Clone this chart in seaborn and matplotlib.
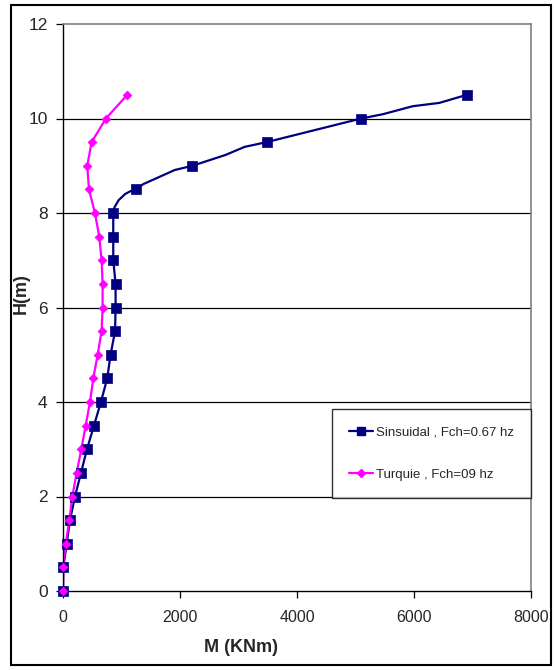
import matplotlib
matplotlib.use("Agg")
import matplotlib.pyplot as plt
from matplotlib.lines import Line2D
from matplotlib.patches import Rectangle
import seaborn as sns

# Sinusoidal excitation: full curve (includes intermediate points) and flags for marked points
sin_m = [0, 5, 63, 119, 205, 307, 410, 529, 648, 756, 813, 890, 899, 899, 859, 859, 859,
         880, 950, 1060, 1150, 1251, 1370, 1911, 2213, 2781, 3106, 3481, 5097, 5466, 5978,
         6433, 6900]
sin_h = [0, 0.5, 1, 1.5, 2, 2.5, 3, 3.5, 4, 4.5, 5, 5.5, 6, 6.5, 7, 7.5, 8,
         8.12, 8.27, 8.40, 8.46, 8.5, 8.61, 8.91, 9, 9.23, 9.40, 9.5, 10, 10.09, 10.26,
         10.33, 10.5]
sin_marked = [1, 1, 1, 1, 1, 1, 1, 1, 1, 1, 1, 1, 1, 1, 1, 1, 1,
              0, 0, 0, 0, 1, 0, 0, 1, 0, 0, 1, 1, 0, 0,
              0, 1]

# Turkey record
tur_m = [0, 5, 46, 108, 159, 233, 313, 387, 461, 518, 592, 660, 677, 677, 660, 620, 546,
         444, 415, 489, 734, 1098]
tur_h = [0, 0.5, 1, 1.5, 2, 2.5, 3, 3.5, 4, 4.5, 5, 5.5, 6, 6.5, 7, 7.5, 8,
         8.5, 9, 9.5, 10, 10.5]

labels = ["Sinsuidal , Fch=0.67 hz", "Turquie , Fch=09 hz"]
x_ticks = [0, 2000, 4000, 6000, 8000]
y_ticks = [0, 2, 4, 6, 8, 10, 12]

NAVY = "#000080"
MAGENTA = "#FF00FF"

sns.set_theme(style="white")
plt.rcParams["font.family"] = ["Liberation Sans", "DejaVu Sans"]

fig = plt.figure(figsize=(5.55, 6.70), dpi=100)
ax = fig.add_axes([63 / 555, 79 / 670, 468 / 555, 567 / 670])

# horizontal gridlines
for yv in y_ticks[1:-1]:
    ax.axhline(yv, color="#000000", lw=0.9, zorder=0)

sns.lineplot(x=sin_m, y=sin_h, sort=False, estimator=None, color=NAVY, lw=1.6, ax=ax)
mx = [m for m, f in zip(sin_m, sin_marked) if f]
my = [h for h, f in zip(sin_h, sin_marked) if f]
sns.scatterplot(x=mx, y=my, marker="s", s=50, color=NAVY, edgecolor=NAVY, linewidth=0.5,
                ax=ax, zorder=3, clip_on=False)

sns.lineplot(x=tur_m, y=tur_h, sort=False, estimator=None, color=MAGENTA, lw=1.6, ax=ax)
sns.scatterplot(x=tur_m, y=tur_h, marker="D", s=20, color=MAGENTA, edgecolor=MAGENTA,
                linewidth=0.5, ax=ax, zorder=4, clip_on=False)

ax.set_xlim(0, 8000)
ax.set_ylim(0, 12)
ax.set_xticks(x_ticks)
ax.set_yticks(y_ticks)
ax.set_xticklabels([str(v) for v in x_ticks], fontsize=11.5)
ax.set_yticklabels([str(v) for v in y_ticks], fontsize=12.5)
ax.tick_params(axis="both", direction="out", length=5, width=0.9, color="black",
               bottom=True, left=True)
ax.tick_params(axis="x", pad=9)
ax.tick_params(axis="y", pad=6)

for side in ["left", "bottom"]:
    ax.spines[side].set_color("black")
    ax.spines[side].set_linewidth(1.0)
for side in ["top", "right"]:
    ax.spines[side].set_color("#808080")
    ax.spines[side].set_linewidth(1.2)

ax.set_xlabel("M (KNm)", fontsize=13, fontweight="bold")
ax.xaxis.set_label_coords(0.38, -0.085)
ax.set_ylabel("H(m)", fontsize=13, fontweight="bold")
ax.yaxis.set_label_coords(-0.072, 0.525)

handles = [
    Line2D([], [], color=NAVY, lw=1.6, marker="s", markersize=6),
    Line2D([], [], color=MAGENTA, lw=1.6, marker="D", markersize=4),
]
leg = ax.legend(handles, labels, loc="lower right", bbox_to_anchor=(1.0, 0.164),
                frameon=True, fancybox=False, shadow=False, fontsize=9.5,
                labelspacing=2.3, borderpad=1.3, handlelength=1.8, handletextpad=0.2,
                borderaxespad=0.0)
leg.get_frame().set_edgecolor("black")
leg.get_frame().set_linewidth(1.0)

# outer chart border
fig.patches.append(Rectangle((11 / 555, 5 / 670), 540 / 555, 660 / 670,
                             transform=fig.transFigure, fill=False,
                             edgecolor="black", lw=1.5))

fig.savefig("out.png", dpi=100)
